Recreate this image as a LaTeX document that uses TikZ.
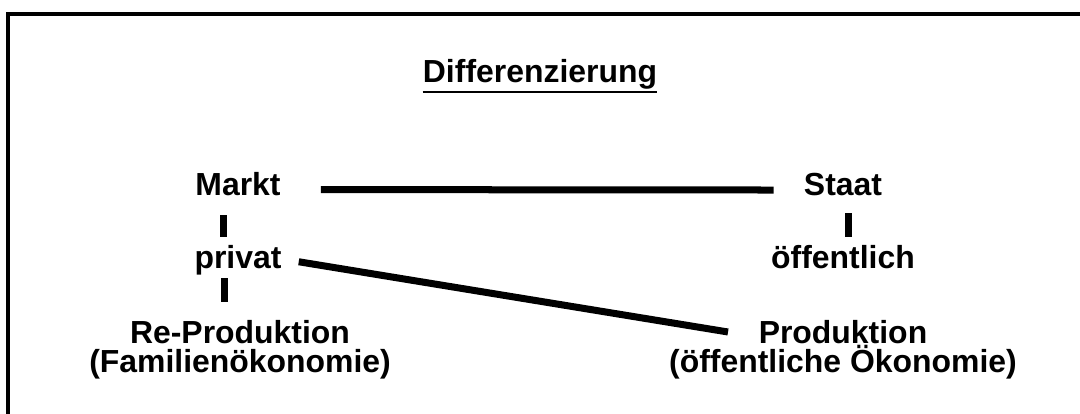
\documentclass[tikz,border=0pt]{standalone}
\usepackage{fontspec}
\setmainfont{Liberation Sans}
\usetikzlibrary{calc}

\begin{document}
\begin{tikzpicture}[x=0.025cm, y=-0.025cm,
    lbl/.style={inner sep=0pt, align=center, font=\fontsize{22.7}{20.6}\selectfont\bfseries},
    bar/.style={black, line width=4.98pt}]
    \useasboundingbox (0,0) rectangle (1080,414);

    % frame (cut at right and bottom)
    \draw[black, line width=2.85pt] (8,414) -- (8,14) -- (1080,14);

    \node[lbl, anchor=base] (title) at (540,82) {Differenzierung};
    \draw[black, line width=2.1pt] ($(title.base west)+(0,10)$) -- ($(title.base east)+(0,10)$);

    \node[lbl, anchor=base] (markt) at (238,195) {Markt};
    \node[lbl, anchor=base] (staat) at (843,195) {Staat};
    \node[lbl, anchor=base] (privat) at (238,268) {privat};
    \node[lbl, anchor=base] (oeff) at (843,268) {öffentlich};
    \node[lbl, anchor=north] (reprod) at (240,320) {Re-Produktion\\(Familienökonomie)};
    \node[lbl, anchor=north] (prod) at (843,320) {Produktion\\(öffentliche Ökonomie)};

    \draw[bar] ($(markt.east)+(40,6)$) -- ($(staat.west)+(-30,6)$);
    \draw[bar] ($(markt.base)+(-15,20)$) -- ($(privat.base)+(-15,-31)$);
    \draw[bar] ($(privat.base)+(-14,10)$) -- ($(reprod.north)+(-16,-18)$);
    \draw[bar] ($(staat.base)+(5,18)$) -- ($(oeff.base)+(5,-31)$);
    \draw[bar] ($(privat.east)+(17,2)$) -- ($(prod.north)+(-115,12)$);
\end{tikzpicture}
\end{document}
